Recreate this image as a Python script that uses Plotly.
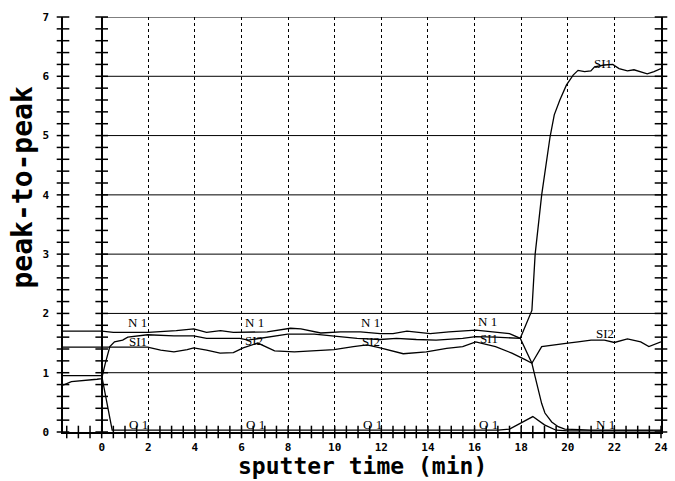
import numpy as np
import plotly.graph_objects as go

# ---------------- data ----------------
n1_x = [-1.66, -1.0, 0, 0.5, 1.1, 2.0, 3.2, 3.95, 4.5, 5.1, 5.65, 6.2, 7.1, 8.1, 8.55, 9.4,
        10.25, 11.1, 11.95, 12.5, 13.1, 14.1, 14.9, 16.05, 16.9, 17.5, 17.96, 18.46, 18.6,
        18.74, 18.88, 19.02, 19.31, 19.59, 19.87, 20.5, 21.0, 22.0, 23.0, 24.0]
n1_y = [1.70, 1.70, 1.70, 1.68, 1.68, 1.68, 1.71, 1.74, 1.68, 1.71, 1.68, 1.68, 1.69, 1.75,
        1.74, 1.67, 1.69, 1.69, 1.66, 1.66, 1.70, 1.66, 1.69, 1.72, 1.69, 1.66, 1.58, 1.16,
        0.93, 0.71, 0.48, 0.32, 0.17, 0.09, 0.05, 0.04, 0.03, 0.03, 0.03, 0.03]

si1_x = [-1.66, -1.3, -0.2, 0, 0.15, 0.35, 0.55, 0.9, 1.12, 1.97, 3.1, 3.95, 4.5, 5.08, 5.93,
         6.28, 7.13, 7.98, 9.12, 9.97, 10.96, 11.95, 12.65, 13.5, 14.35, 15.49, 16.05, 16.9,
         17.75, 17.96, 18.46, 18.6, 18.88, 19.24, 19.42, 19.66, 19.94, 20.23, 20.44, 20.72,
         20.99, 21.15, 21.57, 21.93, 22.2, 22.56, 22.84, 23.13, 23.41, 23.7, 24.0]
si1_y = [0.79, 0.85, 0.89, 0.90, 1.15, 1.44, 1.52, 1.55, 1.60, 1.64, 1.62, 1.62, 1.58, 1.58,
         1.58, 1.55, 1.60, 1.65, 1.65, 1.62, 1.58, 1.56, 1.58, 1.56, 1.55, 1.58, 1.61, 1.60,
         1.58, 1.58, 2.05, 3.0, 4.0, 4.98, 5.35, 5.60, 5.85, 6.02, 6.10, 6.08, 6.09, 6.16,
         6.19, 6.20, 6.13, 6.09, 6.11, 6.08, 6.04, 6.08, 6.13]

si2_x = [-1.66, 0, 1.12, 1.97, 2.53, 3.1, 3.67, 3.95, 4.5, 5.08, 5.65, 6.07, 6.7, 7.42, 8.27,
         9.12, 9.97, 10.8, 11.38, 11.95, 12.94, 13.93, 14.8, 15.49, 16.05, 16.9, 17.6, 18.17,
         18.46, 18.88, 19.59, 20.0, 20.44, 21.0, 21.57, 22.0, 22.56, 23.13, 23.48, 23.83, 24.0]
si2_y = [1.43, 1.43, 1.43, 1.43, 1.38, 1.35, 1.39, 1.42, 1.38, 1.33, 1.34, 1.42, 1.50, 1.37,
         1.35, 1.37, 1.39, 1.44, 1.47, 1.42, 1.32, 1.35, 1.41, 1.44, 1.52, 1.44, 1.33, 1.22,
         1.16, 1.44, 1.47, 1.50, 1.52, 1.55, 1.55, 1.51, 1.57, 1.52, 1.44, 1.50, 1.52]

o1_x = [-1.66, 0, 0.45, 1, 2, 3, 4, 5, 6, 7, 8, 9, 10, 11, 12, 13, 14, 15, 16, 17, 17.5, 18,
        18.5, 19, 19.5, 20, 21, 22, 23, 24]
o1_y = [0.95, 0.95, 0.03, 0.03, 0.04, 0.03, 0.04, 0.03, 0.03, 0.04, 0.03, 0.03, 0.04, 0.03,
        0.04, 0.03, 0.04, 0.03, 0.03, 0.03, 0.05, 0.15, 0.26, 0.12, 0.03, 0.02, 0.02, 0.02,
        0.02, 0.02]

label_text = ["N 1", "N 1", "N 1", "N 1", "SI1", "SI2", "SI2", "SI1",
              "O 1", "O 1", "O 1", "O 1", "SI1", "SI2", "N 1"]
label_x = [1.55, 6.55, 11.55, 16.55, 1.55, 6.55, 11.55, 16.6,
           1.6, 6.6, 11.6, 16.6, 21.5, 21.6, 21.6]
label_y = [1.84, 1.84, 1.84, 1.86, 1.52, 1.54, 1.52, 1.58,
           0.13, 0.13, 0.13, 0.13, 6.22, 1.66, 0.13]

x_tick_vals = list(range(0, 25, 2))
y_tick_vals = list(range(0, 8))
hgrid_y = [1, 2, 3, 4, 5, 6, 7]
x_min, x_max = -1.66, 24
y_min, y_max = 0, 7

# ---------------- figure ----------------
fig = go.Figure()
line_style = dict(color="black", width=1.3)
for xs, ys, nm in [(n1_x, n1_y, "N1"), (si1_x, si1_y, "SI1"),
                   (si2_x, si2_y, "SI2"), (o1_x, o1_y, "O1")]:
    fig.add_trace(go.Scatter(x=xs, y=ys, mode="lines", line=line_style, name=nm,
                             showlegend=False, hoverinfo="skip"))

# cross-shaped tick marks on the vertical axes
yminor = np.arange(y_min, y_max + 0.001, 0.2)
for xa in [x_min, 0, x_max]:
    fig.add_trace(go.Scatter(x=[xa] * len(yminor), y=yminor, mode="markers",
                             marker=dict(symbol="line-ew", size=9,
                                         line=dict(color="black", width=1.5)),
                             cliponaxis=False, showlegend=False, hoverinfo="skip"))
# cross-shaped ticks on the bottom axis
xminor = np.arange(-1.5, x_max + 0.001, 0.5)
fig.add_trace(go.Scatter(x=xminor, y=[0] * len(xminor), mode="markers",
                         marker=dict(symbol="line-ns", size=9,
                                     line=dict(color="black", width=1.5)),
                         cliponaxis=False, showlegend=False, hoverinfo="skip"))

# horizontal grid lines (only from 0 to 24)
for gy in hgrid_y:
    fig.add_shape(type="line", xref="x", yref="y", x0=0, x1=x_max, y0=gy, y1=gy,
                  line=dict(color="black", width=1), layer="below")

# curve labels
for t, lx, ly in zip(label_text, label_x, label_y):
    fig.add_annotation(x=lx, y=ly, text=t, showarrow=False,
                       font=dict(family="Liberation Serif", size=13, color="black"))

# axis titles
fig.add_annotation(xref="paper", yref="paper", x=-0.068, y=0.59, xanchor="center",
                   yanchor="middle", text="peak-to-peak",
                   textangle=-90, showarrow=False,
                   font=dict(family="DejaVu Sans Mono", size=28, color="black", weight="bold"))
fig.add_annotation(xref="paper", yref="paper", x=0.5, y=-0.119, xanchor="center",
                   yanchor="bottom", text="sputter time (min)", showarrow=False,
                   font=dict(family="DejaVu Sans Mono", size=23, color="black", weight="bold"))

fig.update_layout(
    width=675, height=481,
    margin=dict(l=63, r=7, t=17, b=49),
    plot_bgcolor="white", paper_bgcolor="white",
    showlegend=False,
    xaxis=dict(range=[x_min, x_max], tickvals=x_tick_vals,
               ticktext=[str(v) for v in x_tick_vals],
               showgrid=True, gridcolor="black", griddash="dot", gridwidth=1,
               zeroline=True, zerolinecolor="black", zerolinewidth=1.5,
               showline=True, linecolor="black", linewidth=1.5, mirror=False,
               ticks="", ticklabelstandoff=4,
               tickfont=dict(family="DejaVu Sans Mono", size=11, color="black", weight="bold")),
    yaxis=dict(range=[y_min, y_max], tickvals=y_tick_vals,
               ticktext=[str(v) for v in y_tick_vals],
               showgrid=False, zeroline=False,
               showline=True, linecolor="black", linewidth=1.5, mirror=True,
               ticks="", ticklabelstandoff=10,
               tickfont=dict(family="DejaVu Sans Mono", size=11, color="black", weight="bold")),
)

fig.write_html("out.html", config={"displayModeBar": False},
               post_script="document.body.style.margin='0';")
